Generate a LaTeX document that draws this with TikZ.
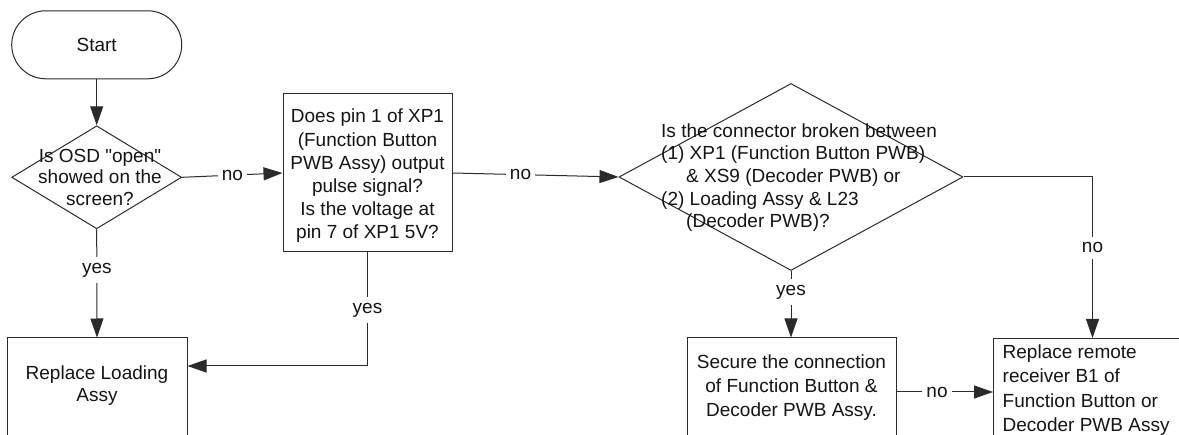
\documentclass[tikz,border=0pt]{standalone}
\usepackage{fontspec}
\setmainfont{Liberation Sans}[Ligatures=TeXOff]
\usetikzlibrary{arrows.meta,shapes.geometric}
\definecolor{ink}{HTML}{141414}
\definecolor{wire}{HTML}{2A2A2A}
\begin{document}
\begin{tikzpicture}[x=1pt,y=-1pt,
  every node/.style={text=ink},
  shp/.style={draw=wire,line width=1pt,inner sep=0pt},
  boxn/.style={shp,rectangle},
  dia/.style={shp,diamond},
  txt/.style={inner sep=0pt,font=\fontsize{19}{23}\selectfont},
  lbl/.style={fill=white,inner xsep=4pt,inner ysep=6pt,font=\fontsize{19}{23}\selectfont},
  arr/.style={draw=wire,line width=1pt,-{Triangle[length=19pt,width=13pt]}},
  wireln/.style={draw=wire,line width=1pt}]
\useasboundingbox (0,0) rectangle (1179,435);
\clip (0,0) rectangle (1179,435);
% shapes
\node[boxn,rounded corners=34pt,minimum width=170pt,minimum height=68pt] (start) at (96.7,44.8) {};
\node[txt] (startt) at (96.7,45) {Start};
\node[dia,minimum width=170pt,minimum height=103pt] (d1) at (96.7,177.3) {};
\node[txt,align=center,font=\fontsize{19}{21.5}\selectfont] (d1t) at (100,177) {Is OSD "open"\\showed on the\\screen?};
\node[boxn,minimum width=169pt,minimum height=158pt] (b2) at (367.5,173) {};
\node[txt,align=center,font=\fontsize{19}{23.2}\selectfont] (b2t) at (367.5,176) {Does pin 1 of XP1\\(Function Button\\PWB Assy) output\\pulse signal?\\Is the voltage at\\pin 7 of XP1 5V?};
\node[dia,minimum width=344pt,minimum height=187pt] (d3) at (791,177) {};
\node[txt,align=left,anchor=west,font=\fontsize{19}{22.7}\selectfont] (d3t) at (661,177.5) {Is the connector broken between\\(1) XP1 (Function Button PWB)\\\hspace*{25pt}\& XS9 (Decoder PWB) or\\(2) Loading Assy \& L23\\\hspace*{25pt}(Decoder PWB)?};
\node[boxn,minimum width=180pt,minimum height=108pt] (rl) at (97,392) {};
\node[txt,align=center,font=\fontsize{19}{22}\selectfont] (rlt) at (97,386) {Replace Loading\\Assy};
\node[boxn,minimum width=209pt,minimum height=108pt] (sec) at (791.5,392) {};
\node[txt,align=center,font=\fontsize{19}{24.2}\selectfont] (sect) at (791.5,387.5) {Secure the connection\\of Function Button \&\\Decoder PWB Assy.};
\node[boxn,minimum width=220pt,minimum height=108pt,anchor=north west] (rr) at (993,338) {};
\node[txt,align=left,anchor=west,font=\fontsize{19}{24.2}\selectfont] (rrt) at (1002.5,390) {Replace remote\\receiver B1 of\\Function Button or\\Decoder PWB Assy};
% connectors
\coordinate (c1) at (367.5,366);
\coordinate (c2) at (1092.5,177);
\draw[arr] (start.south) -- (d1.north);
\draw[arr] (d1.east) -- node[lbl,pos=0.5] {no} (b2.west);
\draw[arr] (b2.east) -- node[lbl,pos=0.41] {no} (d3.west);
\draw[arr] (d1.south) -- node[lbl,pos=0.376] {yes} (rl.north);
\draw[wireln] (b2.south) -- node[lbl,pos=0.51] {yes} (c1);
\draw[arr] (c1) -- (c1 -| rl.east);
\draw[arr] (d3.south) -- node[lbl,pos=0.32] {yes} (d3.south |- sec.north);
\draw[wireln] (d3.east) -- (c2);
\draw[arr] (c2) -- node[lbl,pos=0.44] {no} (c2 |- rr.north);
\draw[arr] (sec.east) -- node[lbl,pos=0.42] {no} (sec.east -| rr.west);
\end{tikzpicture}
\end{document}
